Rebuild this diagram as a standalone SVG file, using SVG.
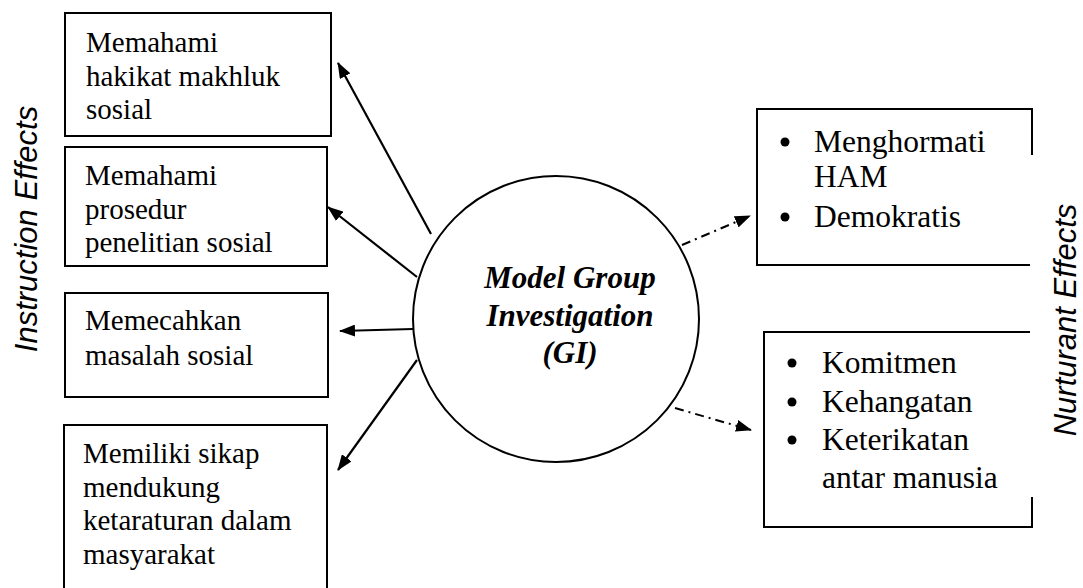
<svg xmlns="http://www.w3.org/2000/svg" width="1083" height="588" viewBox="0 0 1083 588">
<style>
.box{fill:none;stroke:#000;stroke-width:2}
.t{font-family:"Liberation Serif","Times New Roman",serif;font-size:29px;fill:#000}
.tr{font-family:"Liberation Serif","Times New Roman",serif;font-size:31.5px;fill:#000}
.c{font-family:"Liberation Serif","Times New Roman",serif;font-size:31px;font-weight:bold;font-style:italic;fill:#000;text-anchor:middle}
.side{font-family:"Liberation Sans",Arial,sans-serif;font-size:31px;font-style:italic;fill:#000;text-anchor:middle}
.a{stroke:#000;stroke-width:2.2;fill:none;marker-end:url(#ah)}
.d{stroke:#000;stroke-width:2;fill:none;stroke-dasharray:9 5 2 5;marker-end:url(#ah)}
</style>
<defs>
<marker id="ah" viewBox="0 0 16 12" refX="15" refY="6" markerWidth="16" markerHeight="12" markerUnits="userSpaceOnUse" orient="auto">
<path d="M0,0 L16,6 L0,12 Z" fill="#000"/>
</marker>
</defs>
<rect width="1083" height="588" fill="#fff"/>
<text class="side" transform="translate(37,229) rotate(-90)">Instruction Effects</text>
<text class="side" transform="translate(1076,320) rotate(-90)">Nurturant Effects</text>
<g id="box1">
<rect class="box" x="65" y="13" width="266" height="123"/>
<text class="t" x="86" y="52">Memahami</text>
<text class="t" x="86" y="85.5">hakikat makhluk</text>
<text class="t" x="86" y="119">sosial</text>
</g>
<g id="box2">
<rect class="box" x="65" y="147" width="262" height="119"/>
<text class="t" x="85" y="185">Memahami</text>
<text class="t" x="85" y="218.5">prosedur</text>
<text class="t" x="85" y="252">penelitian sosial</text>
</g>
<g id="box3">
<rect class="box" x="65" y="293" width="263" height="104"/>
<text class="t" x="85" y="330">Memecahkan</text>
<text class="t" x="85" y="364.5">masalah sosial</text>
</g>
<g id="box4">
<path class="box" d="M64,590 V425 H327 V590"/>
<text class="t" x="83" y="463">Memiliki sikap</text>
<text class="t" x="83" y="496.5">mendukung</text>
<text class="t" x="83" y="530">ketaraturan dalam</text>
<text class="t" x="83" y="563.5">masyarakat</text>
</g>
<g id="center">
<circle cx="556" cy="319" r="143" fill="none" stroke="#000" stroke-width="2"/>
<text class="c" x="570" y="288">Model Group</text>
<text class="c" x="570" y="326">Investigation</text>
<text class="c" x="570" y="363">(GI)</text>
</g>
<g id="box5">
<path class="box" d="M1032,155 V109 H757 V265 H1030"/>
<circle cx="785" cy="142" r="4.5"/>
<text class="tr" x="814" y="152">Menghormati</text>
<text class="tr" x="814" y="187">HAM</text>
<circle cx="785" cy="217" r="4.5"/>
<text class="tr" x="814" y="227">Demokratis</text>
</g>
<g id="box6">
<path class="box" d="M1030,332 H764 V527 H1032 V497"/>
<circle cx="792" cy="363" r="4.5"/>
<text class="tr" x="822" y="373">Komitmen</text>
<circle cx="792" cy="402" r="4.5"/>
<text class="tr" x="822" y="412">Kehangatan</text>
<circle cx="792" cy="440" r="4.5"/>
<text class="tr" x="822" y="450">Keterikatan</text>
<text class="tr" x="822" y="488">antar manusia</text>
</g>
<g id="connectors">
<line class="a" x1="431" y1="234" x2="338" y2="63"/>
<line class="a" x1="417" y1="277" x2="328" y2="207"/>
<line class="a" x1="413" y1="329" x2="340" y2="331"/>
<line class="a" x1="417" y1="360" x2="338" y2="470"/>
<line class="d" x1="682" y1="245" x2="750" y2="216"/>
<line class="d" x1="675" y1="408" x2="751" y2="430"/>
</g>
</svg>
